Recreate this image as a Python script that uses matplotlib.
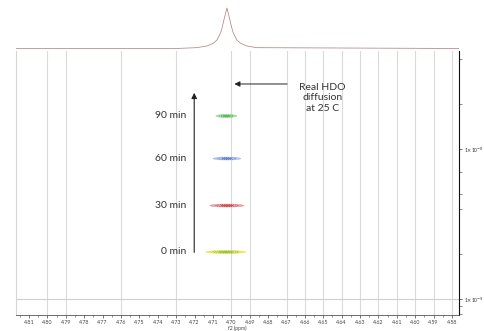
import matplotlib
matplotlib.use('Agg')
import matplotlib.pyplot as plt
from matplotlib.patches import Ellipse
from matplotlib.ticker import MultipleLocator, FixedLocator, NullFormatter

plt.rcParams['font.family'] = ['Lato', 'DejaVu Sans']

# 1D projection (HDO peak): ppm vs. relative intensity
spec_ppm = [4.817, 4.730, 4.719, 4.7134, 4.7097, 4.7078, 4.7059, 4.7051, 4.7040,
            4.7024, 4.7008, 4.6997, 4.6989, 4.6970, 4.6951, 4.6915, 4.6861, 4.576]
spec_int = [0.0, 0.0, 0.02, 0.06, 0.13, 0.21, 0.38, 0.50, 0.71,
            1.0, 0.71, 0.50, 0.38, 0.21, 0.13, 0.06, 0.02, 0.0]

# DOSY spots: time label, chemical shift, diffusion coefficient (m2/s), spot width (ppm)
times = ['0 min', '30 min', '60 min', '90 min']
spot_ppm = [4.7030, 4.7024, 4.7024, 4.7027]
spot_D = [2.06e-9, 4.2e-9, 8.64e-9, 1.66e-8]
spot_width = [0.0217, 0.0185, 0.0152, 0.0114]
outer_colors = ['#e4e040', '#e08a8a', '#9fb6e8', '#8fd08a']
inner_colors = ['#7db82f', '#c83a3a', '#4f74c8', '#3fa845']

# vertical grid lines drawn by the NMR software
grid_ppm = [4.80, 4.79, 4.76, 4.73, 4.70, 4.69, 4.67, 4.66, 4.65, 4.64,
            4.63, 4.62, 4.61, 4.60, 4.59, 4.58]
tick_ppm = [4.81, 4.80, 4.79, 4.78, 4.77, 4.76, 4.75, 4.74, 4.73, 4.72, 4.71, 4.70,
            4.69, 4.68, 4.67, 4.66, 4.65, 4.64, 4.63, 4.62, 4.61, 4.60, 4.59, 4.58]
xlim = (4.8171, 4.5763)
ylim = (7.82e-10, 4.5e-8)

fig = plt.figure(figsize=(4.84, 3.31), dpi=100)
ax = fig.add_axes([0.033, 0.048, 0.915, 0.798])
ax_top = fig.add_axes([0.033, 0.849, 0.915, 0.151], sharex=ax)

# top 1D spectrum
ax_top.plot(spec_ppm, spec_int, color='#b48484', linewidth=0.55)
ax_top.set_ylim(-0.037, 1.197)
ax_top.axis('off')

# main DOSY panel
ax.set_yscale('log')
ax.set_xlim(*xlim)
ax.set_ylim(*ylim)

for g in grid_ppm:
    ax.axvline(g, color='#dadada', linewidth=0.8, zorder=0)
ax.axhline(1e-9, color='#cfcfcf', linewidth=0.8, zorder=0)

for p, d, w, oc, ic in zip(spot_ppm, spot_D, spot_width, outer_colors, inner_colors):
    h = d * 0.045
    ax.add_patch(Ellipse((p, d), w, h, facecolor=oc, edgecolor=oc, linewidth=0.4, alpha=0.75, zorder=3))
    ax.add_patch(Ellipse((p, d), w * 0.65, h * 0.7, facecolor='none', edgecolor=ic, linewidth=0.6,
                         linestyle=':', zorder=4))
    ax.add_patch(Ellipse((p, d), w * 0.35, h * 0.4, facecolor=ic, edgecolor=ic, linewidth=0.4,
                         alpha=0.7, zorder=5))

for t, d in zip(times, spot_D):
    ax.text(4.7247, d, t, ha='right', va='center', fontsize=7.5, color='#333333')

# vertical time arrow
ax.annotate('', xy=(0.4025, 0.852), xytext=(0.4025, 0.227), xycoords='axes fraction',
            arrowprops=dict(arrowstyle='-|>', color='#222222', linewidth=0.8, mutation_scale=8))
# HDO annotation
ax.annotate('', xy=(0.487, 0.875), xytext=(0.6185, 0.875), xycoords='axes fraction',
            arrowprops=dict(arrowstyle='-|>', color='#222222', linewidth=0.7, mutation_scale=8))
ax.text(0.692, 0.822, 'Real HDO\ndiffusion\nat 25 C', transform=ax.transAxes, ha='center',
        va='center', fontsize=7.5, color='#333333', linespacing=1.25)

# axes styling
ax.spines['top'].set_visible(False)
ax.spines['left'].set_color('#d6d6d6')
ax.spines['bottom'].set_color('#555555')
ax.spines['bottom'].set_linewidth(0.6)
ax.spines['right'].set_color('#111111')
ax.spines['right'].set_linewidth(0.8)

ax.xaxis.set_major_locator(FixedLocator(tick_ppm))
ax.xaxis.set_minor_locator(MultipleLocator(0.005))
ax.set_xticklabels(['%.2f' % t for t in tick_ppm])
ax.tick_params(axis='x', which='major', labelsize=3.8, length=2.5, width=0.5, pad=1,
               colors='#444444')
ax.tick_params(axis='x', which='minor', length=1.5, width=0.4, colors='#444444')
ax.set_xlabel('f2 (ppm)', fontsize=3.6, color='#444444', labelpad=0.5)

ax.yaxis.tick_right()
ax.set_yticks([1e-9, 1e-8])
ax.set_yticklabels([r'1$\times$10$^{-9}$', r'1$\times$10$^{-8}$'])
ax.yaxis.set_minor_locator(FixedLocator([8e-10, 9e-10, 2e-9, 4e-9, 5e-9, 7e-9, 2e-8, 4e-8]))
ax.yaxis.set_minor_formatter(NullFormatter())
ax.tick_params(axis='y', which='major', labelsize=3.6, length=2.5, width=0.5, pad=1,
               colors='#333333')
ax.tick_params(axis='y', which='minor', length=1.8, width=0.4, colors='#333333')

fig.savefig('out.png', dpi=100)
